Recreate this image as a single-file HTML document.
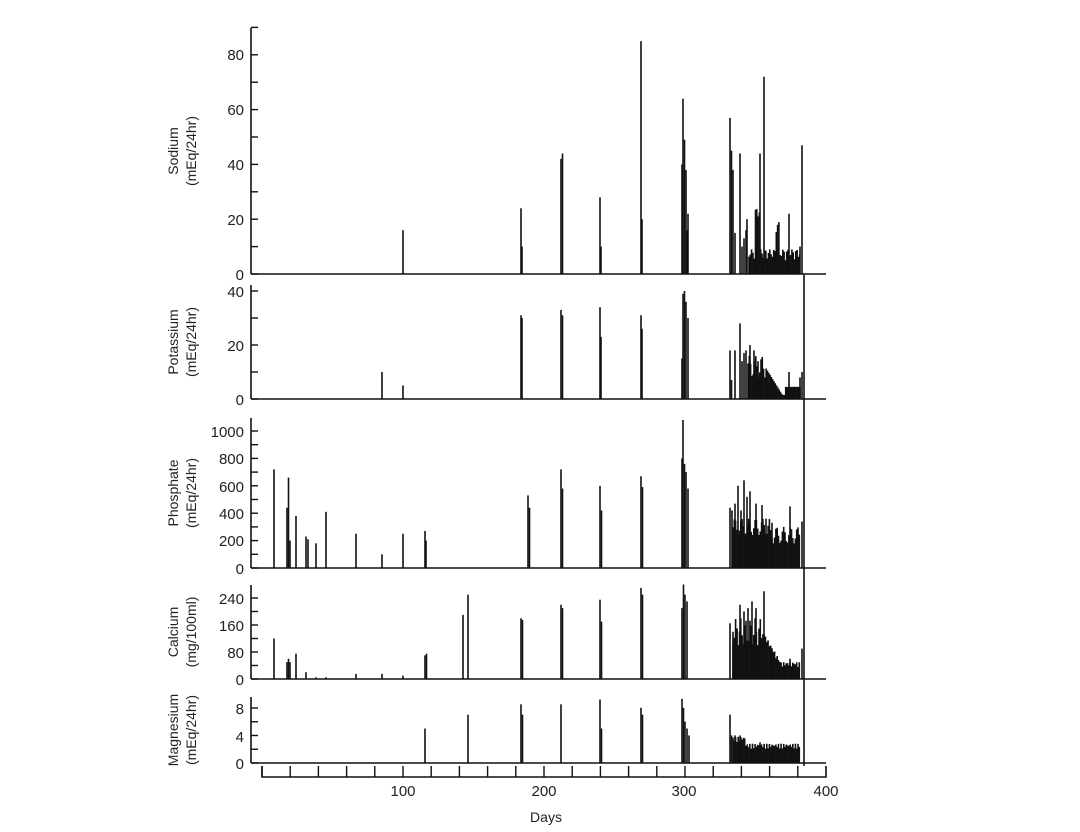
<!DOCTYPE html>
<html><head><meta charset="utf-8"><style>
html,body{margin:0;padding:0;background:#fff;}
svg{display:block;font-family:"Liberation Sans",sans-serif;}
text{fill:#222;font-size:15px;}
</style></head><body>
<svg id="s" width="1080" height="832" viewBox="0 0 1080 832">
<g stroke="#111" stroke-width="1.6" fill="none">
<!-- sodium -->
<line x1="251" y1="28" x2="251" y2="274"/><line x1="251" y1="274" x2="826" y2="274"/>
<!-- potassium -->
<line x1="251" y1="285" x2="251" y2="399"/><line x1="251" y1="399" x2="826" y2="399"/>
<!-- phosphate -->
<line x1="251" y1="418" x2="251" y2="568"/><line x1="251" y1="568" x2="826" y2="568"/>
<!-- calcium -->
<line x1="251" y1="585" x2="251" y2="679"/><line x1="251" y1="679" x2="826" y2="679"/>
<!-- magnesium -->
<line x1="251" y1="697" x2="251" y2="763"/><line x1="251" y1="763" x2="826" y2="763"/>
<line x1="804" y1="274" x2="804" y2="766"/>
<!-- ruler -->
<path d="M262 766 V777 H826 V766"/>
</g>
<g id="ticks" stroke="#111" stroke-width="1.4"></g>
<g id="bars" stroke="#111" stroke-width="1.6"></g>
<g text-anchor="end">
<text x="244" y="60">80</text><text x="244" y="115">60</text><text x="244" y="170">40</text><text x="244" y="225">20</text><text x="244" y="280">0</text>
<text x="244" y="297">40</text><text x="244" y="351">20</text><text x="244" y="405">0</text>
<text x="244" y="437">1000</text><text x="244" y="464">800</text><text x="244" y="492">600</text><text x="244" y="519">400</text><text x="244" y="546">200</text><text x="244" y="574">0</text>
<text x="244" y="604">240</text><text x="244" y="631">160</text><text x="244" y="658">80</text><text x="244" y="685">0</text>
<text x="244" y="714">8</text><text x="244" y="742">4</text><text x="244" y="769">0</text>
</g>
<g text-anchor="middle">
<text x="403" y="796">100</text><text x="544" y="796">200</text><text x="684" y="796">300</text><text x="826" y="796">400</text>
<text x="546" y="822" style="font-size:14px">Days</text>
<text transform="translate(178,151) rotate(-90)" style="font-size:14px">Sodium</text>
<text transform="translate(196,151) rotate(-90)" style="font-size:14px">(mEq/24hr)</text>
<text transform="translate(178,342) rotate(-90)" style="font-size:14px">Potassium</text>
<text transform="translate(196,342) rotate(-90)" style="font-size:14px">(mEq/24hr)</text>
<text transform="translate(178,493) rotate(-90)" style="font-size:14px">Phosphate</text>
<text transform="translate(196,493) rotate(-90)" style="font-size:14px">(mEq/24hr)</text>
<text transform="translate(178,632) rotate(-90)" style="font-size:14px">Calcium</text>
<text transform="translate(196,632) rotate(-90)" style="font-size:14px">(mg/100ml)</text>
<text transform="translate(178,730) rotate(-90)" style="font-size:14px">Magnesium</text>
<text transform="translate(196,730) rotate(-90)" style="font-size:14px">(mEq/24hr)</text>
</g>
</svg>
<script>
var NS="http://www.w3.org/2000/svg";
function L(g,x1,y1,x2,y2){var l=document.createElementNS(NS,"line");l.setAttribute("x1",x1);l.setAttribute("y1",y1);l.setAttribute("x2",x2);l.setAttribute("y2",y2);document.getElementById(g).appendChild(l);}
// ticks
function T(base,step,n,len){for(var i=0;i<=n;i++){var y=base-i*step;L("ticks",251,y,251+len,y);}}
T(274,27.4,9,7);T(399,27,4,7);T(568,13.7,10,7);T(679,13.5,6,7);T(763,13.75,4,7);
for(var i=0;i<=19;i++){var x=262+28.2*i;L("ticks",x,766,x,777);}
// bars: panel base, scale (px per unit), list of [x,value]
function B(base,sc,arr){arr.forEach(function(a){L("bars",a[0],base,a[0],base-a[1]*sc);});}
function fill(base,sc,x0,x1,f){for(var x=x0;x<=x1;x+=1.3){L("bars",x,base,x,base-f(x)*sc);}}
var sN=2.74;
B(274,sN,[[403,16],[521,24],[522,10],[561,42],[562.5,44],[600,28],[601,10],[641,85],[642,20],[682,40],[683,64],[684.5,49],[686,38],[688,22],[687,16],
[730,57],[731.5,45],[733,38],[735,15],[740,44],[742,10],[744,13],[746,16],[747,20],[760,44],[764,72],[789,22],[802,47],[800,10]]);
fill(274,sN,749,800,function(x){return 5+4*Math.abs(Math.sin(x*0.7))+(x>755&&x<760?15:0)+(x>775&&x<779?10:0);});
var sK=2.7;
B(399,sK,[[382,10],[403,5],[521,31],[522,30],[561,33],[562.5,31],[600,34],[601,23],[641,31],[642,26],[682,15],[683,39],[684.5,40],[686,36],[688,30],
[730,18],[731.5,7],[735,18],[740,28],[742,14],[744,17],[746,18],[750,20],[754,18],[758,14],[789,10],[800,8],[802,10]]);
fill(399,sK,748,800,function(x){return x<765?(12+4*Math.sin(x)):Math.max(1.5,12-(x-765)*0.6)+(x>785?3:0);});
var sP=0.137;
B(568,sP,[[274,720],[287,440],[288.5,660],[290,200],[296,380],[306,230],[308,210],[316,180],[326,410],[356,250],[382,100],[403,250],[425,270],[426,200],
[528,530],[529.5,440],[561,720],[562.5,580],[600,600],[601.5,420],[641,670],[642.5,590],[682,800],[683,1080],[684.5,760],[686,700],[688,580],
[730,440],[732,420],[735,470],[738,600],[741,420],[744,640],[747,520],[750,560],[756,470],[762,460],[766,360],[772,330],[790,450],[802,340]]);
fill(568,sP,733,800,function(x){return 260+60*Math.sin(x*0.9)+(x<770?40:-20);});
var sC=0.3375;
B(679,sC,[[274,120],[287,50],[288.5,60],[290,50],[296,75],[306,20],[316,5],[326,5],[356,15],[382,15],[403,10],[425,70],[426.5,75],[463,190],[468,250],
[521,180],[522.5,175],[561,220],[562.5,210],[600,235],[601.5,170],[641,270],[642.5,250],[682,210],[683.5,280],[685,250],[687,230],
[730,165],[733,140],[737,150],[740,220],[744,200],[748,210],[752,230],[756,210],[764,260],[790,60],[802,90]]);
fill(679,sC,733,800,function(x){return x<762?(140+40*Math.sin(x*1.3)):Math.max(35,130-(x-762)*5)+15*Math.abs(Math.sin(x));});
var sM=6.9;
B(763,sM,[[425,5],[468,7],[521,8.5],[522.5,7],[561,8.5],[600,9.2],[601.5,5],[641,8],[642.5,7],[682,9.3],[683.5,8],[685,6],[687,5],[689,4],
[730,7],[731.5,4],[735,4],[740,4],[744,3.5],[760,3]]);
fill(763,sM,733,800,function(x){return 2+0.8*Math.abs(Math.sin(x*1.1))+(x<745?1:0);});
</script>
</body></html>
